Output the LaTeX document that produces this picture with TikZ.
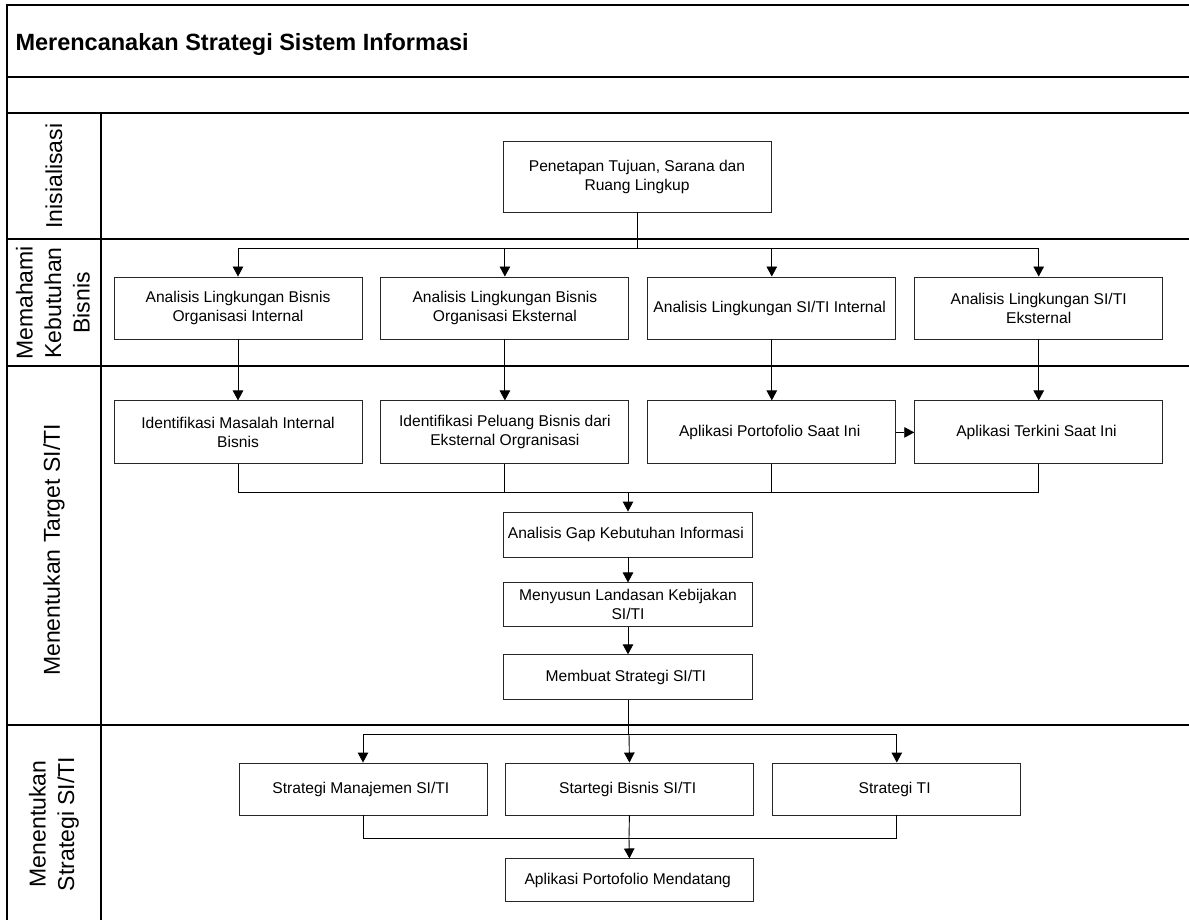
\documentclass[tikz,border=0pt]{standalone}
\usepackage{fontspec}
\setmainfont{Liberation Sans}
\usetikzlibrary{positioning, arrows.meta}

\begin{document}
\begin{tikzpicture}[
        x=1pt, y=-1pt,
        node distance=18pt,
        block/.style={
            rectangle, draw=black!85, line width=0.9pt, fill=white,
            minimum width=248pt, minimum height=63pt,
            align=center, inner sep=2pt,
            font=\fontsize{15.6}{19}\selectfont
        },
        lanelbl/.style={rotate=90, align=center, inner sep=0pt,
            font=\fontsize{23}{28.5}\selectfont},
        frame/.style={draw=black, line width=1.4pt},
        line/.style={draw=black, line width=0.9pt},
        arr/.style={line, -{Triangle[length=10pt, width=10.5pt]}}
    ]
    \useasboundingbox (0,0) rectangle (1189,920);

    % pool and lanes
    \draw[frame] (1189,5) -- (7,5) -- (7,920);
    \draw[frame] (7,77) -- (1189,77);
    \draw[frame] (7,113) -- (1189,113);
    \draw[frame] (7,239) -- (1189,239);
    \draw[frame] (7,366) -- (1189,366);
    \draw[frame] (7,725) -- (1189,725);
    \draw[frame] (101,113) -- (101,920);

    \node[anchor=west, font=\fontsize{23.5}{26}\selectfont\bfseries] (judul) at (12,44)
        {Merencanakan Strategi Sistem Informasi};

    \node[lanelbl] (lane1) at (54,176) {Inisialisasi};
    \node[lanelbl] (lane2) at (53,303) {Memahami\\Kebutuhan\\Bisnis};
    \node[lanelbl] (lane3) at (54,550) {Menentukan Target SI/TI};
    \node[lanelbl] (lane4) at (54,824) {Menentukan\\Strategi SI/TI};

    \node[block, minimum width=268pt, minimum height=71pt] (tujuan) at (637,176.5) {
        Penetapan Tujuan, Sarana dan \\
        Ruang Lingkup
    };

    \node[block, minimum height=62pt] (lbi) at (238,308) {
        Analisis Lingkungan Bisnis \\
        Organisasi Internal
    };
    \node[block, minimum height=62pt, right=of lbi] (lbe) {
        Analisis Lingkungan Bisnis \\
        Organisasi Eksternal
    };
    \node[block, minimum height=62pt, right=of lbe] (lti) {
        Analisis Lingkungan SI/TI Internal
    };
    \node[block, minimum height=62pt, right=of lti] (lte) {
        Analisis Lingkungan SI/TI \\
        Eksternal
    };

    \node[block, below=61pt of lbi] (masalah) {
        Identifikasi Masalah Internal \\
        Bisnis
    };
    \node[block, below=61pt of lbe] (peluang) {
        Identifikasi Peluang Bisnis dari \\
        Eksternal Orgranisasi
    };
    \node[block, below=61pt of lti] (portofolio) {
        Aplikasi Portofolio Saat Ini
    };
    \node[block, below=61pt of lte] (terkini) {
        Aplikasi Terkini Saat Ini
    };

    \node[block, minimum width=249pt, minimum height=45pt] (gap) at (628,534.5) {
        Analisis Gap Kebutuhan Informasi
    };
    \node[block, minimum width=249pt, minimum height=44pt, below=25pt of gap] (kebijakan) {
        Menyusun Landasan Kebijakan \\
        SI/TI
    };
    \node[block, minimum width=249pt, minimum height=45pt, below=27pt of kebijakan] (strategi) {
        Membuat Strategi SI/TI
    };

    \node[block, minimum height=52pt] (manajemen) at (363,789) {
        Strategi Manajemen SI/TI
    };
    \node[block, minimum height=52pt, right=of manajemen] (bisnis) {
        Startegi Bisnis SI/TI
    };
    \node[block, minimum height=52pt, right=of bisnis] (stti) {
        Strategi TI
    };
    \node[block, minimum height=43pt, below=43pt of bisnis] (mendatang) {
        Aplikasi Portofolio Mendatang
    };

    \coordinate (j1) at (637,248);
    \coordinate (j2) at (628,492);
    \coordinate (j3) at (629,734);
    \coordinate (j4) at (629,838);

    \draw[line] (tujuan) -- (j1);
    \draw[arr] (j1) -| (lbi);
    \draw[arr] (j1) -| (lbe);
    \draw[arr] (j1) -| (lti);
    \draw[arr] (j1) -| (lte);

    \draw[arr] (lbi) -- (masalah);
    \draw[arr] (lbe) -- (peluang);
    \draw[arr] (lti) -- (portofolio);
    \draw[arr] (lte) -- (terkini);
    \draw[arr] (portofolio) -- (terkini);

    \draw[line] (masalah) |- (j2);
    \draw[line] (terkini) |- (j2);
    \draw[line] (peluang) -- (peluang.south |- j2);
    \draw[line] (portofolio) -- (portofolio.south |- j2);
    \draw[arr] (j2) -- (gap);
    \draw[arr] (gap) -- (kebijakan);
    \draw[arr] (kebijakan) -- (strategi);

    \draw[line] (strategi.south) -- (strategi.south |- j3) -- (j3);
    \draw[arr] (j3) -| (manajemen);
    \draw[arr] (j3) -- (bisnis);
    \draw[arr] (j3) -| (stti);

    \draw[line] (manajemen) |- (j4);
    \draw[line] (stti) |- (j4);
    \draw[line] (bisnis) -- (j4);
    \draw[arr] (j4) -- (mendatang);

\end{tikzpicture}
\end{document}
